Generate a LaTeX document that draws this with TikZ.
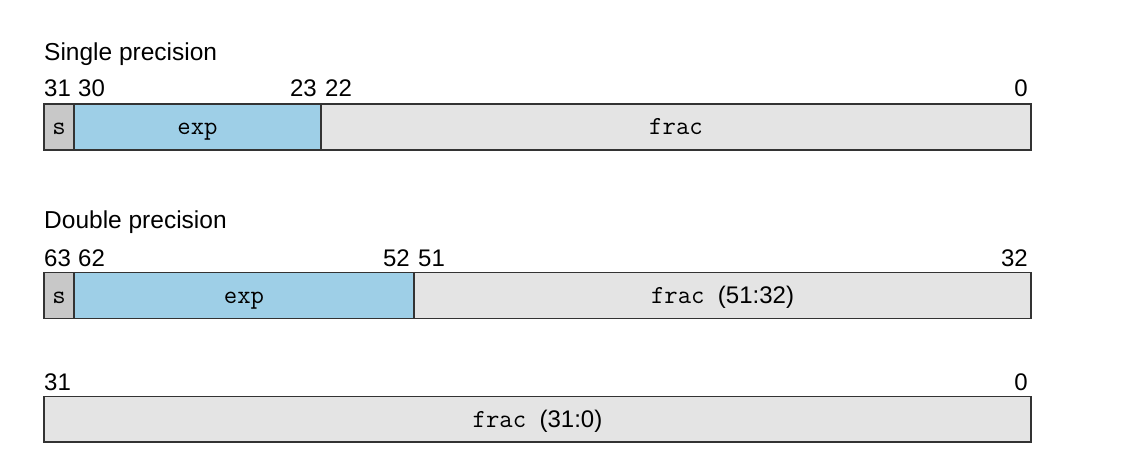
\documentclass[tikz,border=0pt]{standalone}
\usepackage{fontspec}
\setmainfont{Liberation Sans}
\begin{document}
\begin{tikzpicture}[x=1pt,y=-1pt,
  field/.style={draw=black!80, line width=1.4pt, inner sep=0pt, minimum height=45.6pt,
    text height=16pt, text depth=0pt, font=\fontsize{26}{30}\ttfamily},
  sfield/.style={field, fill=sgray},
  efield/.style={field, fill=expblue},
  ffield/.style={field, fill=fracgray},
  lbl/.style={inner sep=0pt, font=\fontsize{24.5}{28}\selectfont},
  num/.style={inner sep=0pt, font=\fontsize{24}{28}\selectfont}]
\definecolor{sgray}{HTML}{C8C8C8}
\definecolor{expblue}{HTML}{9ECFE7}
\definecolor{fracgray}{HTML}{E4E4E4}
\useasboundingbox (0,0) rectangle (1126,468);
% Single precision
\node[lbl, anchor=base west] (t1) at (44,61) {Single precision};
\node[num, anchor=base west] (n31a) at (44,96.7) {31};
\node[num, anchor=base west] (n30) at (78,96.7) {30};
\node[num, anchor=base east] (n23) at (317,96.7) {23};
\node[num, anchor=base west] (n22) at (325,96.7) {22};
\node[num, anchor=base east] (n0a) at (1028,96.7) {0};
\node[sfield, minimum width=30pt] (s1) at (59,127) {s};
\node[efield, minimum width=247pt] (e1) at (197.5,127) {exp};
\node[ffield, minimum width=710pt] (f1) at (676,127) {frac};
% Double precision
\node[lbl, anchor=base west] (t2) at (44,228.5) {Double precision};
\node[num, anchor=base west] (n63) at (44,266.5) {63};
\node[num, anchor=base west] (n62) at (78,266.5) {62};
\node[num, anchor=base east] (n52) at (410,266.5) {52};
\node[num, anchor=base west] (n51) at (418,266.5) {51};
\node[num, anchor=base east] (n32) at (1028,266.5) {32};
\node[sfield, minimum width=30pt] (s2) at (59,295.5) {s};
\node[efield, minimum width=340pt] (e2) at (244,295.5) {exp};
\node[ffield, minimum width=617pt] (f2) at (722.5,295.5) {frac\ {\fontsize{24}{28}\rmfamily(51:32)}};
% Lower word
\node[num, anchor=base west] (n31b) at (44,390) {31};
\node[num, anchor=base east] (n0b) at (1028,390) {0};
\node[ffield, minimum width=987pt] (f3) at (537.5,419.2) {frac\ {\fontsize{24}{28}\rmfamily(31:0)}};
\end{tikzpicture}
\end{document}
